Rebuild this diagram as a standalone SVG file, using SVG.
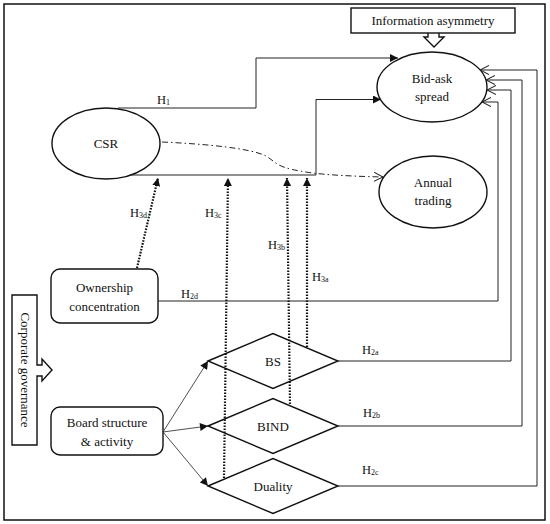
<svg xmlns="http://www.w3.org/2000/svg" width="550" height="524" viewBox="0 0 550 524" font-family="'Liberation Serif','DejaVu Serif',serif">
<style>
text{font-family:"Liberation Serif","DejaVu Serif",serif;font-size:13px;fill:#111;}
.lbl{font-size:12.5px;}
.sub{font-size:8px;}
.shape{fill:#fff;stroke:#111;stroke-width:1.4;}
.conn{fill:none;stroke:#222;stroke-width:1;}
.thin{fill:none;stroke:#222;stroke-width:0.8;}
.dot{fill:none;stroke:#111;stroke-width:2.2;stroke-dasharray:1.6 1.4;}
.dd{fill:none;stroke:#222;stroke-width:1;stroke-dasharray:6 3 1.5 3;}
</style>
<defs>
<marker id="af" viewBox="0 0 10 10" refX="10" refY="5" markerUnits="userSpaceOnUse" markerWidth="9" markerHeight="8" orient="auto">
<path d="M0,0 L10,5 L0,10 z" fill="#111"/>
</marker>
<marker id="ad" viewBox="0 0 10 10" refX="10" refY="5" markerUnits="userSpaceOnUse" markerWidth="8" markerHeight="8" orient="auto">
<path d="M0,0 L10,5 L0,10 z" fill="#111"/>
</marker>
<marker id="ao" viewBox="0 0 10 10" refX="10" refY="5" markerUnits="userSpaceOnUse" markerWidth="9" markerHeight="10" orient="auto">
<path d="M0,0 L10,5 L0,10" fill="none" stroke="#222" stroke-width="1.2"/>
</marker>
</defs>
<rect x="0" y="0" width="550" height="524" fill="#fff"/>
<rect id="frame" x="4" y="4" width="541" height="516" fill="none" stroke="#111" stroke-width="1.5"/>

<g id="info">
<path class="shape" d="M428,32 V37 H424 L434,47 L444,37 H439 V32"/>
<rect class="shape" x="351" y="8" width="164" height="25"/>
<text x="433" y="25" text-anchor="middle">Information asymmetry</text>
</g>

<g id="bidask">
<ellipse class="shape" cx="432" cy="87" rx="55" ry="35"/>
<text x="432" y="83" text-anchor="middle">Bid-ask</text>
<text x="432" y="101" text-anchor="middle">spread</text>
</g>

<g id="csr">
<ellipse class="shape" cx="106" cy="143.5" rx="54" ry="35.5"/>
<text x="106" y="148" text-anchor="middle">CSR</text>
</g>

<g id="annual">
<ellipse class="shape" cx="433" cy="192" rx="54" ry="36"/>
<text x="433" y="187" text-anchor="middle">Annual</text>
<text x="433" y="205" text-anchor="middle">trading</text>
</g>

<g id="ownership">
<rect class="shape" x="51" y="269" width="107" height="54" rx="9" ry="9"/>
<text x="104.5" y="292" text-anchor="middle">Ownership</text>
<text x="104.5" y="311" text-anchor="middle">concentration</text>
</g>

<g id="board">
<rect class="shape" x="51" y="407" width="112" height="48" rx="9" ry="9"/>
<text x="107" y="427" text-anchor="middle">Board structure</text>
<text x="107" y="446" text-anchor="middle">&amp; activity</text>
</g>

<g id="governance">
<path class="shape" d="M12,295 H37 V365 H42 V359 L52,370 L42,381 V376 H37 V445 H12 Z"/>
<text transform="translate(24.5,370) rotate(90)" x="0" y="4" text-anchor="middle">Corporate governance</text>
</g>

<g id="bs">
<path class="shape" d="M208,361 L273,333.5 L338,361 L273,388.5 Z"/>
<text x="273" y="366" text-anchor="middle">BS</text>
</g>

<g id="bind">
<path class="shape" d="M208,426 L273,398.5 L338,426 L273,453.5 Z"/>
<text x="273" y="431" text-anchor="middle">BIND</text>
</g>

<g id="duality">
<path class="shape" d="M208,486 L273,458.5 L338,486 L273,513.5 Z"/>
<text x="273" y="491" text-anchor="middle">Duality</text>
</g>

<g id="connectors">
<path class="conn" d="M118,108 H256 V58 H398" marker-end="url(#af)"/>
<path class="conn" d="M130,175 H316 V99.5 H381" marker-end="url(#af)"/>
<path class="dd" d="M162,142 C205,144 250,148 266,156 C276,162 276,167 300,171 C315,174 340,176 383,177" marker-end="url(#ao)"/>
<path class="conn" d="M158,301 H498 V102 H482" marker-end="url(#ao)"/>
<path class="conn" d="M338,361 H511 V90 H487" marker-end="url(#ao)"/>
<path class="conn" d="M338,426 H522 V80 H486" marker-end="url(#ao)"/>
<path class="conn" d="M338,486 H537 V70 H480" marker-end="url(#ao)"/>
<path class="thin" d="M163,432 L208,361" marker-end="url(#af)"/>
<path class="thin" d="M163,432 L208,426" marker-end="url(#af)"/>
<path class="thin" d="M163,432 L208,486" marker-end="url(#af)"/>
<path class="dot" d="M137,268 L158,178" marker-end="url(#ad)"/>
<path class="dot" d="M224,478 L228,178" marker-end="url(#ad)"/>
<path class="dot" d="M290,404 L287,178" marker-end="url(#ad)"/>
<path class="dot" d="M307,347 L307,178" marker-end="url(#ad)"/>
<text class="lbl" x="157" y="104">H<tspan class="sub" dy="1">1</tspan></text>
<text class="lbl" x="130" y="217">H<tspan class="sub" dy="1">3d</tspan></text>
<text class="lbl" x="205" y="217">H<tspan class="sub" dy="1">3c</tspan></text>
<text class="lbl" x="268" y="249">H<tspan class="sub" dy="1">3b</tspan></text>
<text class="lbl" x="312" y="281">H<tspan class="sub" dy="1">3a</tspan></text>
<text class="lbl" x="181" y="298">H<tspan class="sub" dy="1">2d</tspan></text>
<text class="lbl" x="362" y="354">H<tspan class="sub" dy="1">2a</tspan></text>
<text class="lbl" x="363" y="417">H<tspan class="sub" dy="1">2b</tspan></text>
<text class="lbl" x="362" y="474">H<tspan class="sub" dy="1">2c</tspan></text>
</g>
</svg>
